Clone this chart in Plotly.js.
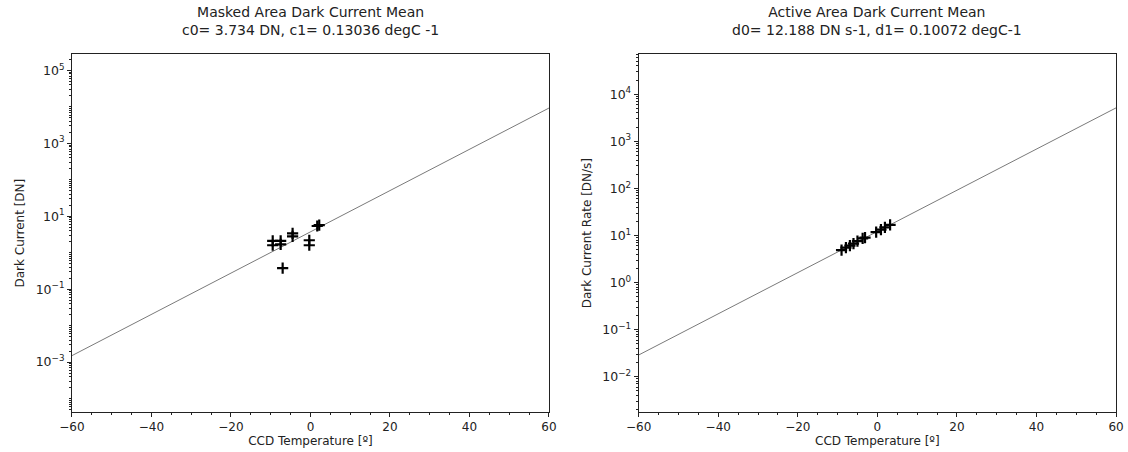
<!DOCTYPE html>
<html>
<head>
<meta charset="utf-8">
<script src="https://cdn.plot.ly/plotly-3.0.1.min.js"></script>
<style>html,body{margin:0;padding:0;background:#fff;}#chart{width:1128px;height:452px;}</style>
</head>
<body>
<div id="chart"></div>
<script>
// ---- Data ----
var leftTitle = "Masked Area Dark Current Mean<br>c0= 3.734 DN, c1= 0.13036 degC -1";
var rightTitle = "Active Area Dark Current Mean<br>d0= 12.188 DN s-1, d1= 0.10072 degC-1";
var xLabel = "CCD Temperature [º]";
var leftYLabel = "Dark Current [DN]";
var rightYLabel = "Dark Current Rate [DN/s]";

var maskedTemp  = [-9.5, -9.5, -7.5, -7.5, -7.0, -4.5, -4.5, -0.3, -0.3, 1.7, 2.2];
var maskedDark  = [2.1, 1.6, 2.1, 1.7, 0.38, 3.4, 2.8, 2.2, 1.6, 5.4, 5.7];
var maskedFitT  = [-60, 60];
var maskedFitV  = [0.0015, 9313];

var activeTemp  = [-9.0, -7.9, -6.9, -6.0, -5.0, -3.7, -3.1, -0.3, 0.9, 1.9, 3.2];
var activeRate  = [4.9, 5.5, 6.1, 6.7, 7.6, 8.7, 9.0, 11.8, 13.3, 14.8, 16.8];
var activeFitT  = [-60, 60];
var activeFitV  = [0.0289, 5134];

var xTicks = [-60, -40, -20, 0, 20, 40, 60];
var xTickText = ["−60", "−40", "−20", "0", "20", "40", "60"];
var leftYTicks = [1e-3, 1e-1, 1e1, 1e3, 1e5];
var leftYTickText = ["10<sup>−3</sup>", "10<sup>−1</sup>", "10<sup>1</sup>", "10<sup>3</sup>", "10<sup>5</sup>"];
var rightYTicks = [1e-2, 1e-1, 1e0, 1e1, 1e2, 1e3, 1e4];
var rightYTickText = ["10<sup>−2</sup>", "10<sup>−1</sup>", "10<sup>0</sup>", "10<sup>1</sup>", "10<sup>2</sup>", "10<sup>3</sup>", "10<sup>4</sup>"];

// ---- Style ----
var FONT = "DejaVu Sans, sans-serif";
var AX = "#222";
var fitStyle = {color: "#7a7a7a", width: 1};
var mk = {symbol: "cross-thin", size: 8, color: "#000", line: {color: "#000", width: 2.2}};

var traces = [
  {x: maskedFitT, y: maskedFitV, mode: "lines", line: fitStyle, xaxis: "x", yaxis: "y", hoverinfo: "skip"},
  {x: maskedTemp, y: maskedDark, mode: "markers", marker: mk, xaxis: "x", yaxis: "y"},
  {x: activeFitT, y: activeFitV, mode: "lines", line: fitStyle, xaxis: "x2", yaxis: "y2", hoverinfo: "skip"},
  {x: activeTemp, y: activeRate, mode: "markers", marker: mk, xaxis: "x2", yaxis: "y2"}
];

function xax(domain, anchor) {
  return {
    domain: domain, anchor: anchor, range: [-60, 60],
    tickvals: xTicks, ticktext: xTickText,
    ticks: "outside", ticklen: 4, tickwidth: 1, tickcolor: AX,
    minor: {dtick: 5, tick0: 0, ticks: "outside", ticklen: 2, tickcolor: AX},
    showline: true, linecolor: AX, linewidth: 1, mirror: true,
    showgrid: false, zeroline: false,
    tickfont: {family: FONT, size: 12, color: "#222"},
    title: {text: xLabel, font: {family: FONT, size: 12, color: "#222"}, standoff: 3}
  };
}
function yax(anchor, range, tv, tt, label) {
  return {
    domain: [0.0885, 0.880], anchor: anchor, type: "log", range: range,
    tickvals: tv, ticktext: tt,
    ticks: "outside", ticklen: 4, tickwidth: 1, tickcolor: AX,
    minor: {ticks: "outside", ticklen: 2, tickcolor: AX, dtick: "D1"},
    showline: true, linecolor: AX, linewidth: 1, mirror: true,
    showgrid: false, zeroline: false,
    tickfont: {family: FONT, size: 12.5, color: "#222"},
    title: {text: label, font: {family: FONT, size: 12, color: "#222"}, standoff: 8}
  };
}

var layout = {
  width: 1128, height: 452,
  margin: {l: 0, r: 0, t: 0, b: 0},
  paper_bgcolor: "#fff", plot_bgcolor: "#fff",
  showlegend: false,
  xaxis: xax([0.0638, 0.4867], "y"),
  yaxis: yax("x", [-4.37, 5.445], leftYTicks, leftYTickText, leftYLabel),
  xaxis2: xax([0.5662, 0.9894], "y2"),
  yaxis2: yax("x2", [-2.75, 4.85], rightYTicks, rightYTickText, rightYLabel),
  annotations: [
    {text: leftTitle, xref: "paper", yref: "paper", x: (0.0638 + 0.4867) / 2, y: 0.912,
     xanchor: "center", yanchor: "bottom", showarrow: false,
     font: {family: FONT, size: 14, color: "#222"}},
    {text: rightTitle, xref: "paper", yref: "paper", x: (0.5662 + 0.9894) / 2, y: 0.912,
     xanchor: "center", yanchor: "bottom", showarrow: false,
     font: {family: FONT, size: 14, color: "#222"}}
  ]
};

Plotly.newPlot("chart", traces, layout, {staticPlot: true, displayModeBar: false});
</script>
</body>
</html>
